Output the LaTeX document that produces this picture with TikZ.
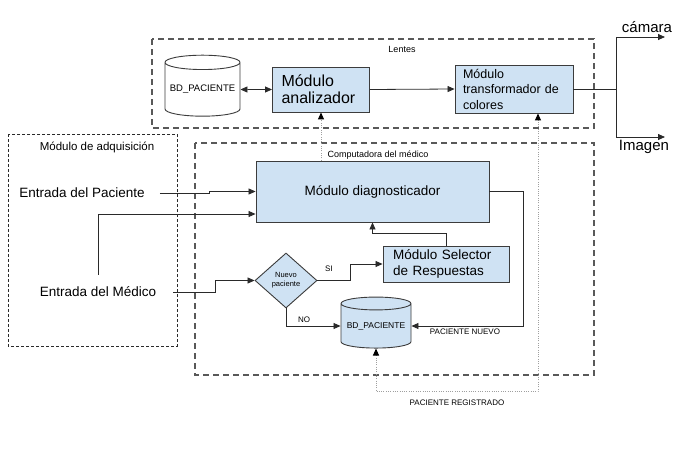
\documentclass[tikz,border=0pt]{standalone}
\usepackage{fontspec}
\setmainfont{Liberation Sans}
\usetikzlibrary{shapes.geometric,arrows.meta}

\definecolor{modfill}{HTML}{CFE2F3}
\definecolor{modedge}{HTML}{3C3C3C}
\definecolor{wiregray}{HTML}{2A2A2A}

\tikzset{
    modbox/.style={draw=modedge, fill=modfill, line width=0.9pt, inner ysep=0pt},
    dbcyl/.style={cylinder, shape border rotate=90, draw=modedge, line width=0.9pt, inner sep=0pt},
    wire/.style={draw=wiregray, line width=0.8pt},
    tip/.tip={Triangle[length=7pt,width=6pt]},
    dtip/.tip={Triangle[length=7pt,width=6pt,color=black]},
    arr/.style={wire, -tip},
    dotwire/.style={draw=gray!75, line width=1pt, dash pattern=on 1pt off 1.3pt},
    plain/.style={inner sep=0pt},
    smalltxt/.style={plain, font=\fontsize{8}{9}\selectfont},
}

\begin{document}
\begin{tikzpicture}[x=1pt, y=-1pt]
    \useasboundingbox (0,0) rectangle (696,450);
    \fill[white] (0,0) rectangle (696,450);

    % Lentes
    \draw[draw=gray!70!black, line width=1.1pt, dash pattern=on 6pt off 4pt] (152,39) rectangle (594,128);
    \node[plain, font=\fontsize{9}{10}\selectfont] (lentes) at (402,49) {Lentes};
    \node[dbcyl, fill=white, minimum width=75pt, minimum height=61pt, aspect=0.22] (bdtop) at (202.5,89.5) {\fontsize{9.5}{11}\selectfont BD\_PACIENTE};
    \node[modbox, minimum width=97pt, minimum height=45pt, inner xsep=9pt, text width=79pt, align=left,
          font=\fontsize{16}{17}\selectfont] (analizador) at (321,89.5) {Módulo\\analizador};
    \node[modbox, minimum width=118pt, minimum height=48pt, inner xsep=8pt, text width=102pt, align=left,
          font=\fontsize{12.5}{15.5}\selectfont] (transf) at (514,89) {Módulo\\transformador de\\colores};

    % salidas
    \node[plain, font=\fontsize{15}{17}\selectfont] (camara) at (647,27) {cámara};
    \node[plain, font=\fontsize{15}{17}\selectfont] (imagen) at (644,147) {Imagen};
    \coordinate (split) at (616,89);
    \coordinate (camtip) at (665,37);
    \coordinate (imgtip) at (665,137);

    % Modulo de adquisicion
    \draw[draw=wiregray, line width=0.8pt, dash pattern=on 3pt off 2pt] (8,134) rectangle (177,346);
    \node[plain, font=\fontsize{11.5}{13}\selectfont] (adq) at (97,147) {Módulo de adquisición};
    \node[plain, font=\fontsize{13.5}{15}\selectfont] (pac) at (82,193) {Entrada del Paciente};
    \node[plain, font=\fontsize{13.5}{15}\selectfont] (med) at (98,292) {Entrada del Médico};

    % Computadora del medico
    \draw[draw=gray!70!black, line width=1.1pt, dash pattern=on 6pt off 4pt] (195,143) rectangle (594,375);
    \node[plain, font=\fontsize{9}{10}\selectfont] (compu) at (378,155) {Computadora del médico};
    \node[modbox, minimum width=233pt, minimum height=61pt, font=\fontsize{13.5}{15}\selectfont] (diag) at (372.5,191.5) {Módulo diagnosticador};
    \node[modbox, minimum width=126pt, minimum height=36pt, inner xsep=10pt, text width=106pt, align=left,
          font=\fontsize{13.5}{16}\selectfont] (selector) at (446,264) {Módulo Selector\\de Respuestas};
    \node[diamond, draw=modedge, fill=modfill, line width=0.9pt, inner sep=0pt, aspect=1.13,
          minimum width=62pt, minimum height=55pt, align=center,
          font=\fontsize{7.5}{9}\selectfont] (nuevo) at (286,280.5) {Nuevo\\paciente};
    \node[dbcyl, fill=modfill, minimum width=70pt, minimum height=51pt, aspect=0.22] (bdlow) at (376,326) {\fontsize{8.5}{10}\selectfont BD\_PACIENTE};

    % conexiones
    \draw[wire, tip-tip] (bdtop.east) -- (analizador.west);
    \draw[arr] (analizador.east) -- (transf.west);
    \draw[wire] (transf.east) -- (split);
    \draw[arr] (split) |- (camtip);
    \draw[arr] (split) |- (imgtip);
    \draw[arr] ([xshift=15pt]pac.east) -- ++(50,0) |- (diag.west);
    \draw[arr] ([yshift=12pt]med.north) |- ([yshift=-22.5pt]diag.west);
    \draw[arr] ([xshift=17pt]med.east) -- ++(42,0) |- (nuevo.west);
    \draw[arr] (nuevo.east) -- ++(33,0) |- (selector.west);
    \node[smalltxt] (si) at (329,269) {SI};
    \draw[arr] (nuevo.south) |- (bdlow.west);
    \node[smalltxt] (no) at (304,320) {NO};
    \draw[arr] (selector.north) -- ++(0,-12) -| (diag.south);
    \draw[arr] (diag.east) -- ++(34,0) |- (bdlow.east);
    \node[smalltxt] (pnuevo) at (465,332) {PACIENTE NUEVO};
    \draw[dotwire, -dtip] (analizador.south |- diag.north) -- (analizador.south);
    \draw[dotwire, dtip-dtip] (bdlow.south) -- ++(0,43) -| ([xshift=24pt]transf.south);
    \node[smalltxt] (preg) at (457,403) {PACIENTE REGISTRADO};
\end{tikzpicture}
\end{document}
